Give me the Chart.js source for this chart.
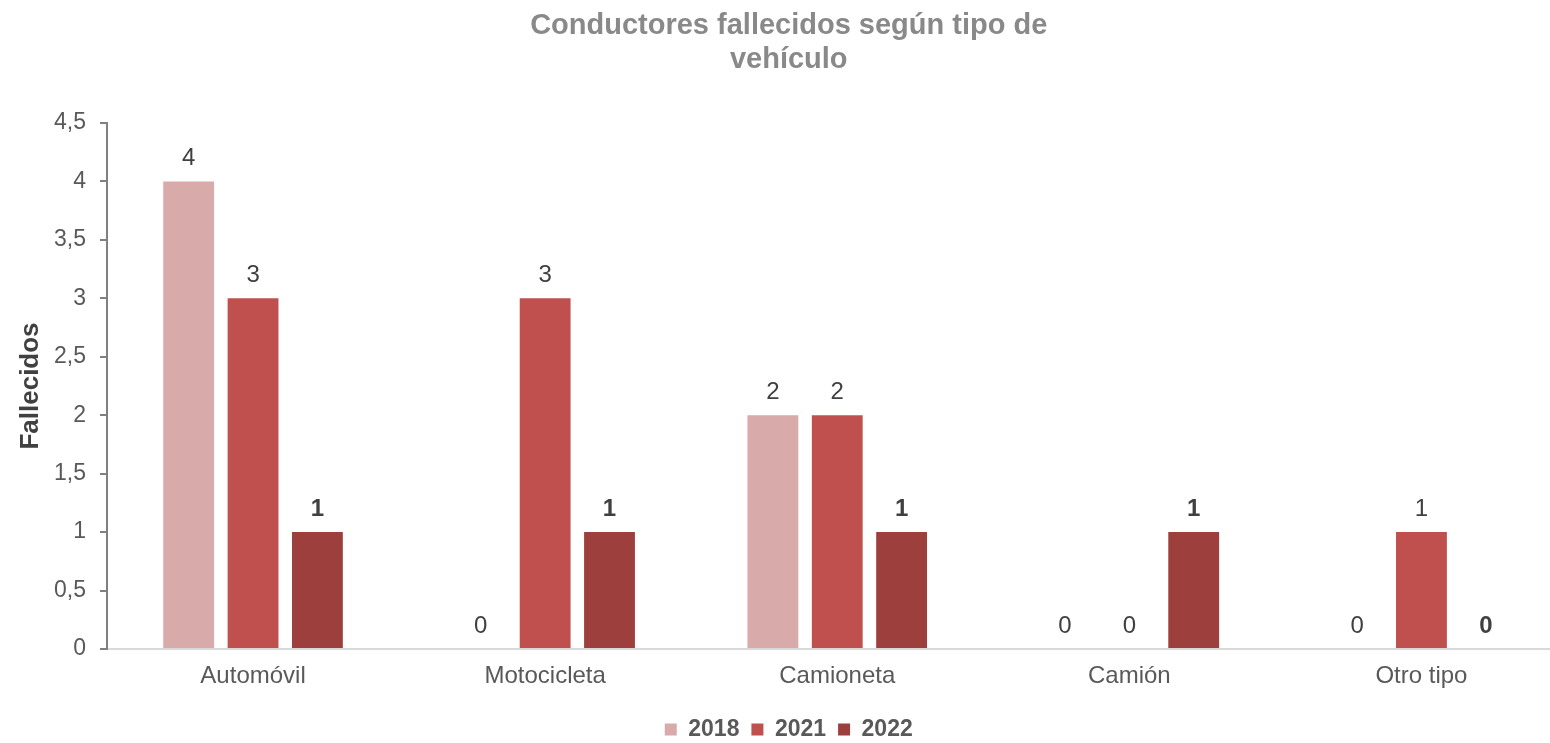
<!DOCTYPE html>
<html lang="es">
<head>
<meta charset="utf-8">
<title>Conductores fallecidos según tipo de vehículo</title>
<script src="https://cdn.jsdelivr.net/npm/chart.js@4.4.0/dist/chart.umd.min.js"></script>
<style>
  html, body { margin: 0; padding: 0; background: #fff; overflow: hidden; }
  #wrap { width: 1580px; height: 751px; }
</style>
</head>
<body>
<div id="wrap"><canvas id="fallecidosChart" width="1580" height="751"></canvas></div>
<script>
// =======================
// Datos
// =======================
const categorias = ["Automóvil", "Motocicleta", "Camioneta", "Camión", "Otro tipo"];
const anios = ["2018", "2021", "2022"];
const valores2018 = [4, 0, 2, 0, 0];
const valores2021 = [3, 3, 2, 0, 1];
const valores2022 = [1, 1, 1, 1, 0];
const coloresBarras = ["#d9aaaa", "#c0504d", "#9d3f3d"];
const tituloGrafico = ["Conductores fallecidos según tipo de", "vehículo"];

const FUENTE = '"Liberation Sans", Arial, sans-serif';

// =======================
// Etiquetas sobre las barras (2022 en negrita)
// =======================
const etiquetasDatos = {
  id: 'etiquetasDatos',
  afterDatasetsDraw(chart) {
    const ctx = chart.ctx;
    ctx.save();
    ctx.textAlign = 'center';
    ctx.textBaseline = 'alphabetic';
    ctx.fillStyle = '#404040';
    chart.data.datasets.forEach((ds, i) => {
      const meta = chart.getDatasetMeta(i);
      ctx.font = (i === 2 ? 'bold ' : '') + '24px ' + FUENTE;
      meta.data.forEach((bar, j) => {
        ctx.fillText(String(ds.data[j]), bar.x, bar.y - 16);
      });
    });
    ctx.restore();
  }
};

const series = [valores2018, valores2021, valores2022];

new Chart(document.getElementById('fallecidosChart'), {
  type: 'bar',
  data: {
    labels: categorias,
    datasets: anios.map((anio, i) => ({
      label: anio,
      data: series[i],
      backgroundColor: coloresBarras[i],
      borderWidth: 0,
      categoryPercentage: 0.661,
      barPercentage: 0.79
    }))
  },
  options: {
    responsive: false,
    animation: false,
    layout: { padding: { left: 10, right: 12.5, top: 0, bottom: 0 } },
    plugins: {
      title: {
        display: true,
        text: tituloGrafico,
        color: '#898989',
        font: { family: FUENTE, size: 29, weight: 'bold', lineHeight: 34 / 29 },
        padding: { top: 9, bottom: 46 }
      },
      legend: {
        position: 'bottom',
        labels: {
          color: '#595959',
          boxWidth: 12,
          boxHeight: 12,
          padding: 12,
          font: { family: FUENTE, size: 23, weight: 'bold' }
        }
      },
      tooltip: { enabled: false }
    },
    scales: {
      x: {
        grid: { display: false, drawTicks: false },
        border: { color: '#d9d9d9', width: 2 },
        ticks: { color: '#595959', padding: 13, font: { family: FUENTE, size: 24 } },
        afterFit: scale => { scale.height = 57; }
      },
      y: {
        min: 0,
        max: 4.5,
        grid: { drawOnChartArea: false, drawTicks: true, tickLength: 7, color: '#808080', lineWidth: 2 },
        border: { color: '#808080', width: 2 },
        ticks: {
          stepSize: 0.5,
          color: '#595959',
          padding: 14,
          font: { family: FUENTE, size: 23 },
          callback: value => String(value).replace('.', ',')
        },
        title: {
          display: true,
          text: 'Fallecidos',
          color: '#404040',
          font: { family: FUENTE, size: 26, weight: 'bold' },
          padding: { top: 5, bottom: 0 }
        },
        afterFit: scale => { scale.width = 97; }
      }
    }
  },
  plugins: [etiquetasDatos]
});
</script>
</body>
</html>
